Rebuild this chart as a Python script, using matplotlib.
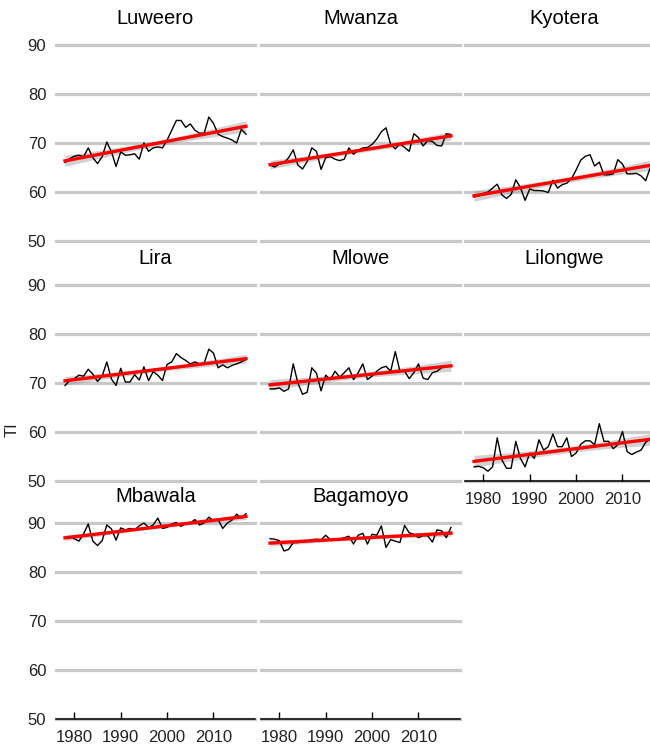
import numpy as np
import matplotlib
matplotlib.use("Agg")
import matplotlib.pyplot as plt

plt.rcParams["font.family"] = ["Liberation Sans", "DejaVu Sans"]

years = np.arange(1978, 2018)

luweero = [66.0, 66.8, 67.3, 67.5, 67.2, 69.0, 67.0, 65.8, 67.2, 70.2,
           68.2, 65.2, 68.2, 67.5, 67.6, 67.8, 66.7, 70.0, 68.3, 69.0,
           69.2, 69.0, 70.6, 72.6, 74.6, 74.6, 73.2, 73.9, 72.6, 72.0,
           72.0, 75.3, 74.0, 71.8, 71.3, 71.0, 70.6, 70.0, 72.8, 71.8]
mwanza = [65.5, 65.1, 65.7, 65.9, 67.0, 68.6, 65.5, 64.7, 66.2, 69.0,
          68.3, 64.6, 67.0, 67.2, 66.7, 66.4, 66.7, 69.0, 67.7, 68.5,
          69.0, 69.1, 69.7, 70.8, 72.3, 73.1, 69.7, 68.8, 69.8, 69.1,
          68.3, 71.9, 71.1, 69.4, 70.5, 70.3, 69.5, 69.4, 71.9, 71.7]
kyotera = [59.0, 59.2, 59.7, 60.0, 60.8, 61.6, 59.4, 58.7, 59.5, 62.5,
           60.9, 58.3, 60.6, 60.3, 60.3, 60.2, 59.9, 62.4, 60.8, 61.5,
           61.8, 62.7, 64.5, 66.5, 67.3, 67.6, 65.3, 66.1, 63.5, 63.5,
           63.7, 66.6, 65.7, 63.7, 63.7, 63.8, 63.3, 62.3, 65.0, 64.4]
lira = [69.5, 70.5, 70.9, 71.6, 71.4, 72.8, 71.8, 70.3, 71.4, 74.3,
        70.8, 69.5, 73.0, 70.2, 70.2, 71.7, 70.6, 73.3, 70.5, 72.3,
        71.6, 70.5, 73.8, 74.3, 76.0, 75.2, 74.6, 73.9, 74.3, 73.9,
        74.1, 76.9, 76.1, 73.1, 73.7, 73.1, 73.6, 73.9, 74.3, 74.8]
mlowe = [68.8, 68.8, 69.0, 68.3, 68.8, 73.9, 70.0, 67.7, 68.1, 73.1,
         72.0, 68.4, 71.6, 70.7, 72.4, 71.2, 72.1, 73.1, 70.7, 72.1,
         73.9, 70.7, 71.4, 72.4, 73.1, 73.4, 72.4, 76.4, 72.4, 72.4,
         70.9, 72.1, 73.9, 71.0, 70.7, 72.1, 72.4, 73.1, np.nan, np.nan]
lilongwe = [52.9, 53.0, 52.7, 52.0, 52.9, 58.8, 54.3, 52.6, 52.6, 58.1,
            54.6, 52.9, 55.7, 54.6, 58.4, 56.3, 57.0, 59.6, 57.0, 57.0,
            58.8, 55.0, 55.7, 57.5, 58.2, 58.2, 57.4, 61.7, 58.1, 58.1,
            56.6, 57.4, 60.1, 56.0, 55.4, 55.9, 56.3, 57.9, 58.5, 56.8]
mbawala = [87.0, 87.2, 86.8, 86.3, 87.8, 89.8, 86.3, 85.4, 86.4, 89.6,
           88.8, 86.5, 89.0, 88.6, 88.9, 88.6, 89.4, 90.0, 89.1, 89.6,
           91.0, 88.9, 89.1, 89.8, 90.1, 89.3, 90.0, 90.0, 90.7, 89.6,
           90.0, 91.2, 90.5, 90.7, 88.9, 90.0, 90.6, 91.8, 91.0, 91.9]
bagamoyo = [86.8, 86.7, 86.4, 84.3, 84.6, 86.0, 86.0, 86.3, 86.3, 86.6,
            86.7, 86.6, 87.5, 86.6, 86.6, 86.7, 87.0, 87.3, 85.7, 87.5,
            87.9, 85.7, 87.7, 87.5, 89.4, 85.0, 86.6, 86.3, 86.0, 89.5,
            88.0, 87.7, 87.0, 87.4, 87.4, 86.1, 88.6, 88.4, 87.0, 89.1]

stations = ["Luweero", "Mwanza", "Kyotera", "Lira", "Mlowe", "Lilongwe",
            "Mbawala", "Bagamoyo"]
series = [luweero, mwanza, kyotera, lira, mlowe, lilongwe, mbawala, bagamoyo]

y_ticks = [50, 60, 70, 80, 90]
x_ticks = [1980, 1990, 2000, 2010]
y_top = 92.5

W, H = 650, 750
col_x = [56, 261, 465]
panel_w = 199
row_90 = [45, 285, 523]   # pixel row of the 90 line in each facet row
px_per_unit = 196 / 40

fig = plt.figure(figsize=(W / 100, H / 100), dpi=100)

xpad = 0.05 * (years[-1] - years[0])
xlim = (years[0] - xpad, years[-1] + xpad)


def fit_band(x, y):
    ok = ~np.isnan(y)
    xs, ys = x[ok], y[ok]
    n = len(xs)
    b, a = np.polyfit(xs, ys, 1)
    resid = ys - (a + b * xs)
    s = np.sqrt(np.sum(resid ** 2) / (n - 2))
    sxx = np.sum((xs - xs.mean()) ** 2)
    xf = np.linspace(x.min(), x.max(), 100)
    yf = a + b * xf
    se = s * np.sqrt(1 / n + (xf - xs.mean()) ** 2 / sxx)
    return xf, yf, 2.024 * se


for k, (name, vals) in enumerate(zip(stations, series)):
    r, c = divmod(k, 3)
    top_px = row_90[r] - (y_top - 90) * px_per_unit
    h_px = (y_top - 50) * px_per_unit
    ax = fig.add_axes([col_x[c] / W, 1 - (top_px + h_px) / H,
                       panel_w / W, h_px / H])
    vals = np.array(vals, dtype=float)

    ax.set_xlim(*xlim)
    ax.set_ylim(50, y_top)
    for sp in ax.spines.values():
        sp.set_visible(False)
    for yv in y_ticks:
        ax.axhline(yv, color="#c8c8c8", lw=2.3, clip_on=False, zorder=0)

    xf, yf, ci = fit_band(years, vals)
    ax.fill_between(xf, yf - ci, yf + ci, color="#999999", alpha=0.45,
                    lw=0, zorder=1)
    ax.plot(years, vals, color="black", lw=1.0, zorder=2)
    ax.plot(xf, yf, color="red", lw=2.4, zorder=3)

    ax.set_title(name, fontsize=14.5, pad=6)

    ax.set_yticks(y_ticks)
    if c == 0:
        ax.tick_params(axis="y", length=0, labelsize=12, pad=7,
                       labelcolor="#222222")
    else:
        ax.tick_params(axis="y", length=0, labelleft=False)

    # panels with nothing below them carry the year axis
    if k + 3 >= len(stations):
        ax.spines["bottom"].set_visible(True)
        ax.spines["bottom"].set_linewidth(1.1)
        ax.set_xticks(x_ticks)
        ax.tick_params(axis="x", direction="in", length=5, width=1,
                       labelsize=12, pad=8, labelcolor="#222222")
    else:
        ax.set_xticks([])

fig.text(12 / W, 1 - 430 / H, "TI", rotation=90, fontsize=12,
         ha="center", va="center", color="#222222")

fig.savefig("out.png", dpi=100, facecolor="white")
